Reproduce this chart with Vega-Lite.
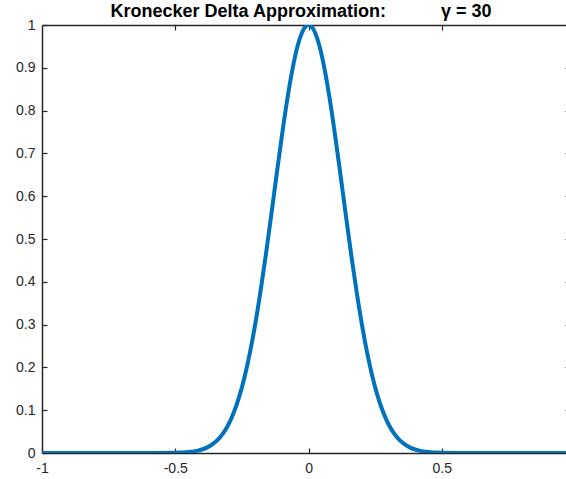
{
  "$schema": "https://vega.github.io/schema/vega-lite/v6.json",
  "autosize": {"type": "none"},
  "padding": {"left": 42, "top": 25, "right": 0, "bottom": 26},
  "width": 524,
  "height": 428,
  "background": "white",
  "title": {
    "text": "Kronecker Delta Approximation:\u00a0\u00a0\u00a0\u00a0\u00a0\u00a0\u00a0\u00a0\u00a0\u00a0\u00a0γ = 30",
    "font": "Liberation Sans",
    "fontSize": 18,
    "fontWeight": "bold",
    "color": "#000000",
    "anchor": "middle",
    "baseline": "alphabetic",
    "offset": 0,
    "dy": 17,
    "dx": -3
  },
  "config": {
    "view": {"stroke": null},
    "axis": {
      "labelFont": "Liberation Sans",
      "labelFontSize": 14,
      "labelColor": "#262626",
      "domainColor": "#262626",
      "domainWidth": 1.5,
      "tickColor": "#262626",
      "tickWidth": 1.2,
      "grid": false,
      "title": null
    }
  },
  "data": {
    "values": [
      {"x": -1.0, "y": 0}, {"x": -0.9, "y": 0}, {"x": -0.8, "y": 0}, {"x": -0.7, "y": 0},
      {"x": -0.6, "y": 0.00002}, {"x": -0.5, "y": 0.00055}, {"x": -0.48, "y": 0.001},
      {"x": -0.46, "y": 0.00175}, {"x": -0.44, "y": 0.003}, {"x": -0.42, "y": 0.00503},
      {"x": -0.4, "y": 0.00823}, {"x": -0.38, "y": 0.01314}, {"x": -0.36, "y": 0.02048},
      {"x": -0.34, "y": 0.03117}, {"x": -0.32, "y": 0.04632}, {"x": -0.3, "y": 0.06721},
      {"x": -0.28, "y": 0.09518}, {"x": -0.26, "y": 0.13161}, {"x": -0.24, "y": 0.17764},
      {"x": -0.22, "y": 0.2341}, {"x": -0.2, "y": 0.30119}, {"x": -0.18, "y": 0.37833},
      {"x": -0.16, "y": 0.46394}, {"x": -0.14, "y": 0.55541}, {"x": -0.12, "y": 0.64921},
      {"x": -0.1, "y": 0.74082}, {"x": -0.08, "y": 0.82531}, {"x": -0.06, "y": 0.89763},
      {"x": -0.04, "y": 0.95313}, {"x": -0.02, "y": 0.98807}, {"x": 0.0, "y": 1.0},
      {"x": 0.02, "y": 0.98807}, {"x": 0.04, "y": 0.95313}, {"x": 0.06, "y": 0.89763},
      {"x": 0.08, "y": 0.82531}, {"x": 0.1, "y": 0.74082}, {"x": 0.12, "y": 0.64921},
      {"x": 0.14, "y": 0.55541}, {"x": 0.16, "y": 0.46394}, {"x": 0.18, "y": 0.37833},
      {"x": 0.2, "y": 0.30119}, {"x": 0.22, "y": 0.2341}, {"x": 0.24, "y": 0.17764},
      {"x": 0.26, "y": 0.13161}, {"x": 0.28, "y": 0.09518}, {"x": 0.3, "y": 0.06721},
      {"x": 0.32, "y": 0.04632}, {"x": 0.34, "y": 0.03117}, {"x": 0.36, "y": 0.02048},
      {"x": 0.38, "y": 0.01314}, {"x": 0.4, "y": 0.00823}, {"x": 0.42, "y": 0.00503},
      {"x": 0.44, "y": 0.003}, {"x": 0.46, "y": 0.00175}, {"x": 0.48, "y": 0.001},
      {"x": 0.5, "y": 0.00055}, {"x": 0.6, "y": 0.00002}, {"x": 0.7, "y": 0},
      {"x": 0.8, "y": 0}, {"x": 0.9, "y": 0}, {"x": 1.0, "y": 0}
    ]
  },
  "layer": [
    {
      "mark": {"type": "line", "color": "#0072BD", "strokeWidth": 4, "interpolate": "monotone", "clip": true},
      "encoding": {
        "x": {
          "field": "x", "type": "quantitative",
          "scale": {"domain": [-1, 0.966], "nice": false, "zero": false},
          "axis": {"orient": "bottom", "values": [-1, -0.5, 0, 0.5], "tickSize": -5, "labelPadding": 13, "labelFlush": false, "labelOverlap": false, "labelExpr": "datum.value + ''"}
        },
        "y": {
          "field": "y", "type": "quantitative",
          "scale": {"domain": [0, 1], "nice": false},
          "axis": {"orient": "left", "values": [0, 0.1, 0.2, 0.3, 0.4, 0.5, 0.6, 0.7, 0.8, 0.9, 1], "tickSize": -5, "labelPadding": 12, "labelFlush": false, "labelOverlap": false, "labelExpr": "datum.value + ''"}
        }
      }
    },
    {
      "mark": {"type": "rule", "opacity": 0},
      "encoding": {
        "x": {
          "field": "x", "type": "quantitative",
          "axis": {"orient": "top", "values": [-0.5, 0, 0.5], "tickSize": -5, "labels": false}
        },
        "y": {
          "field": "y", "type": "quantitative",
          "axis": {"orient": "right", "values": [0.1, 0.2, 0.3, 0.4, 0.5, 0.6, 0.7, 0.8, 0.9], "tickSize": -1, "labels": false, "domain": false}
        }
      }
    }
  ],
  "resolve": {"axis": {"x": "independent", "y": "independent"}}
}
